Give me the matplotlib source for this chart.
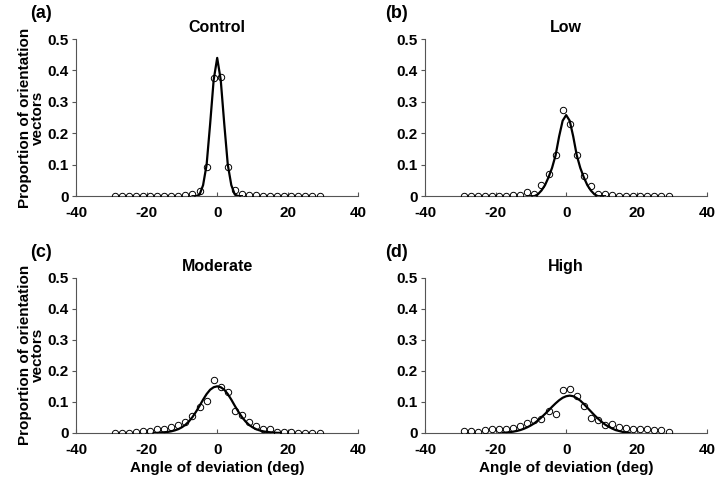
#!/usr/bin/env python

import numpy as np
import matplotlib
matplotlib.use('Agg')
import matplotlib.pyplot as plt

plt.rcParams['font.family'] = ['Liberation Sans', 'DejaVu Sans']
plt.rcParams['font.weight'] = 'bold'
plt.rcParams['axes.unicode_minus'] = False

# measured angles (deg)
angles = np.arange(-29, 30, 2)

control_pts = [0.001, 0.001, 0.001, 0.001, 0.002, 0.002, 0.002, 0.002, 0.002, 0.002,
               0.004, 0.006, 0.018, 0.093, 0.375, 0.38, 0.093, 0.02, 0.006, 0.005,
               0.004, 0.002, 0.002, 0.002, 0.002, 0.002, 0.001, 0.001, 0.001, 0.001]
low_pts = [0.002, 0.002, 0.002, 0.002, 0.002, 0.002, 0.002, 0.003, 0.005, 0.013,
           0.008, 0.035, 0.069, 0.131, 0.273, 0.231, 0.131, 0.065, 0.031, 0.008,
           0.007, 0.003, 0.002, 0.002, 0.002, 0.002, 0.002, 0.002, 0.002, 0.002]
moderate_pts = [0.001, 0.001, 0.001, 0.002, 0.005, 0.005, 0.011, 0.013, 0.019, 0.025,
                0.036, 0.055, 0.084, 0.103, 0.170, 0.148, 0.133, 0.072, 0.059, 0.036,
                0.022, 0.014, 0.014, 0.003, 0.003, 0.002, 0.001, 0.001, 0.001, 0.001]
high_pts = [0.007, 0.007, 0.002, 0.008, 0.013, 0.013, 0.013, 0.016, 0.021, 0.033,
            0.041, 0.046, 0.072, 0.060, 0.137, 0.140, 0.118, 0.085, 0.048, 0.042,
            0.024, 0.027, 0.020, 0.015, 0.012, 0.013, 0.012, 0.009, 0.009, 0.003]

# fitted curves at 1 deg steps
control_fit_x = np.arange(-7, 8)
control_fit = [0.0, 0.0, 0.005, 0.035, 0.10, 0.23, 0.37, 0.44,
               0.37, 0.23, 0.10, 0.035, 0.005, 0.0, 0.0]
low_fit_x = np.arange(-11, 12)
low_fit = [0.0, 0.0, 0.0, 0.006, 0.018, 0.035, 0.06, 0.09, 0.13, 0.19, 0.24, 0.258,
           0.24, 0.19, 0.13, 0.09, 0.06, 0.035, 0.018, 0.006, 0.0, 0.0, 0.0]
moderate_fit_x = np.arange(-18, 19)
moderate_fit = [0.0, 0.0, 0.001, 0.002, 0.003, 0.005, 0.008, 0.012, 0.018, 0.026,
                0.037, 0.051, 0.068, 0.087, 0.107, 0.125, 0.139, 0.147, 0.150,
                0.147, 0.139, 0.125, 0.107, 0.087, 0.068, 0.051, 0.037, 0.026,
                0.018, 0.012, 0.008, 0.005, 0.003, 0.002, 0.001, 0.0, 0.0]
high_fit_x = np.arange(-18, 19)
high_fit = [0.0, 0.001, 0.002, 0.004, 0.006, 0.009, 0.013, 0.018, 0.024, 0.031,
            0.040, 0.050, 0.061, 0.072, 0.084, 0.095, 0.105, 0.113, 0.118, 0.120,
            0.118, 0.112, 0.104, 0.093, 0.081, 0.069, 0.057, 0.046, 0.036, 0.027,
            0.020, 0.014, 0.009, 0.006, 0.003, 0.001, 0.0]

titles = ['Control', 'Low', 'Moderate', 'High']
tags = ['(a)', '(b)', '(c)', '(d)']
points = [control_pts, low_pts, moderate_pts, high_pts]
fits = [(control_fit_x, control_fit), (low_fit_x, low_fit),
        (moderate_fit_x, moderate_fit), (high_fit_x, high_fit)]

fig = plt.figure(figsize=(7.24, 4.88), dpi=100)
boxes = [[0.105, 0.598, 0.390, 0.322], [0.587, 0.598, 0.390, 0.322],
         [0.105, 0.113, 0.390, 0.318], [0.587, 0.113, 0.390, 0.318]]
tag_pos = [(0.041, 0.99), (0.532, 0.99), (0.041, 0.50), (0.532, 0.50)]

for i in range(4):
    ax = fig.add_axes(boxes[i])
    fx, fy = fits[i]
    ax.plot(fx, fy, color='black', lw=1.6, zorder=3)
    ax.plot(angles, points[i], ls='none', marker='o', ms=4.6, mfc='none',
            mec='black', mew=0.7, zorder=4)
    ax.set_xlim(-40, 40)
    ax.set_ylim(0, 0.5)
    ax.set_xticks([-40, -20, 0, 20, 40])
    ax.set_yticks([0, 0.1, 0.2, 0.3, 0.4, 0.5])
    ax.set_yticklabels(['0', '0.1', '0.2', '0.3', '0.4', '0.5'])
    ax.tick_params(axis='x', direction='in', length=3, labelsize=11, pad=7,
                   color='#555555')
    ax.tick_params(axis='y', direction='out', length=3, labelsize=11, pad=2,
                   color='#555555')
    for side in ['top', 'right']:
        ax.spines[side].set_visible(False)
    for side in ['left', 'bottom']:
        ax.spines[side].set_color('#555555')
        ax.spines[side].set_linewidth(0.8)
    ax.set_title(titles[i], fontsize=11.5, fontweight='bold', pad=5)
    if i % 2 == 0:
        ax.set_ylabel('Proportion of orientation\nvectors', fontsize=11,
                      fontweight='bold', linespacing=0.95)
        ax.yaxis.set_label_coords(-0.11, 0.5)
    if i >= 2:
        ax.set_xlabel('Angle of deviation (deg)', fontsize=11, fontweight='bold',
                      labelpad=3)
    fig.text(tag_pos[i][0], tag_pos[i][1], tags[i], fontsize=13,
             fontweight='bold', ha='left', va='top')

fig.savefig('out.png', dpi=100)
